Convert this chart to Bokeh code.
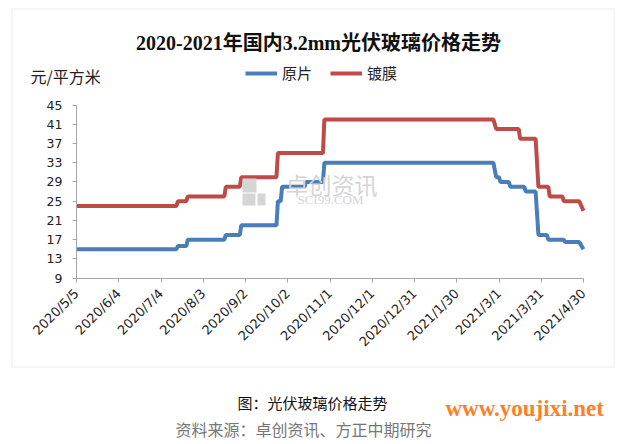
import math
import pandas as pd
from bokeh.plotting import figure
from bokeh.models import (FixedTicker, CustomJSTickFormatter, Label, Legend, LegendItem,
                          BoxAnnotation, Range1d, LinearAxis, DatetimeAxis)
from bokeh.embed import file_html
from bokeh.resources import INLINE

# ---------------- data ----------------
blue_name = "原片"
red_name = "镀膜"
blue_dates = ["2020-05-05", "2020-07-15", "2020-07-16", "2020-07-22", "2020-07-23", "2020-08-18",
              "2020-08-19", "2020-08-29", "2020-08-30", "2020-09-24", "2020-09-25", "2020-09-27",
              "2020-09-28", "2020-10-14", "2020-10-15", "2020-10-27", "2020-10-28", "2021-02-25",
              "2021-02-27", "2021-03-01", "2021-03-02", "2021-03-08", "2021-03-09", "2021-03-19",
              "2021-03-20", "2021-03-27", "2021-03-29", "2021-04-04", "2021-04-05", "2021-04-16",
              "2021-04-17", "2021-04-27", "2021-04-30"]
blue_vals = [15, 15, 15.7, 15.7, 17, 17,
             18, 18, 20, 20, 25, 25,
             28, 28, 29, 29, 33, 33,
             30, 30, 29, 29, 28, 28,
             27, 27, 18, 18, 17, 17,
             16.5, 16.5, 15]
red_dates = ["2020-05-05", "2020-07-15", "2020-07-16", "2020-07-22", "2020-07-23", "2020-08-18",
             "2020-08-19", "2020-08-29", "2020-08-30", "2020-09-24", "2020-09-25", "2020-10-27",
             "2020-10-28", "2021-02-25", "2021-02-27", "2021-03-15", "2021-03-16", "2021-03-27",
             "2021-03-29", "2021-04-05", "2021-04-06", "2021-04-15", "2021-04-16", "2021-04-27",
             "2021-04-30"]
red_vals = [24, 24, 25, 25, 26, 26,
            28, 28, 30, 30, 35, 35,
            42, 42, 40, 40, 38, 38,
            28, 28, 26, 26, 25, 25,
            23]
x_tick_dates = ["2020-05-05", "2020-06-04", "2020-07-04", "2020-08-03", "2020-09-02", "2020-10-02",
                "2020-11-01", "2020-12-01", "2020-12-31", "2021-01-30", "2021-03-01", "2021-03-31",
                "2021-04-30"]
y_ticks = [9, 13, 17, 21, 25, 29, 33, 37, 41, 45]

title_text = "2020-2021年国内3.2mm光伏玻璃价格走势"
unit_text = "元/平方米"
caption_text = "图：光伏玻璃价格走势"
source_text = "资料来源：卓创资讯、方正中期研究"
site_text = "www.youjixi.net"
wm_text = "卓创资讯"
wm_sub = "SCI99.COM"

BLUE = "#4A7EBB"
RED = "#BE4B48"

# ---------------- layout (pixels in the figure canvas) ----------------
W, H = 623, 444
PLOT_L, PLOT_R = 76, 583       # x pixels of first / last date
PLOT_T, PLOT_B = 104.5, 277.7  # y pixels (from top) of y max / y min

d0 = pd.Timestamp(x_tick_dates[0])
d1 = pd.Timestamp(x_tick_dates[-1])
ms0 = d0.value / 1e6
ms1 = d1.value / 1e6
ms_per_px = (ms1 - ms0) / (PLOT_R - PLOT_L)
xr = Range1d(ms0 - PLOT_L * ms_per_px, ms1 + (W - PLOT_R) * ms_per_px)
y0, y1 = y_ticks[0], y_ticks[-1]
u_per_px = (y1 - y0) / (PLOT_B - PLOT_T)
yr = Range1d(y0 - (H - PLOT_B) * u_per_px, y1 + PLOT_T * u_per_px)

bd = pd.to_datetime(blue_dates)
rd = pd.to_datetime(red_dates)
ticks_ms = [pd.Timestamp(d).value // 10**6 for d in x_tick_dates]

p = figure(width=W, height=H, output_backend="svg", toolbar_location=None,
           x_range=xr, y_range=yr, x_axis_location=None, y_axis_location=None,
           min_border=0, min_border_left=0, min_border_right=0,
           min_border_top=0, min_border_bottom=0)
p.outline_line_color = None
p.xgrid.visible = False
p.ygrid.visible = False
p.background_fill_color = "white"
p.border_fill_color = "white"

xaxis = DatetimeAxis(fixed_location=y0, bounds=(ms0, ms1))
yaxis = LinearAxis(fixed_location=ms0, bounds=(y0, y1))
p.add_layout(xaxis, "below")
p.add_layout(yaxis, "left")

for ax in (xaxis, yaxis):
    ax.axis_line_color = "#A6A6A6"
    ax.major_tick_line_color = "#A6A6A6"
    ax.minor_tick_line_color = None
    ax.major_tick_in = 0
    ax.major_tick_out = 4
    ax.major_label_text_color = "#222222"
    ax.major_label_text_font = "DejaVu Sans"

yaxis.major_label_text_font_size = "12.5px"
xaxis.major_label_text_font_size = "13px"
yaxis.ticker = FixedTicker(ticks=y_ticks)
yaxis.major_label_standoff = 10
xaxis.ticker = FixedTicker(ticks=ticks_ms)
xaxis.formatter = CustomJSTickFormatter(code="""
const d = new Date(tick);
return d.getUTCFullYear() + '/' + (d.getUTCMonth() + 1) + '/' + d.getUTCDate();
""")
xaxis.major_label_orientation = math.pi / 4
xaxis.major_label_standoff = 9

rb = p.line(bd, blue_vals, line_color=BLUE, line_width=4)
rr = p.line(rd, red_vals, line_color=RED, line_width=4)

# legend
leg = Legend(items=[LegendItem(label=blue_name, renderers=[rb]),
                    LegendItem(label=red_name, renderers=[rr])],
             orientation="horizontal", location=(245, 361))
leg.padding = 0
leg.margin = 0
leg.spacing = 18
leg.glyph_width = 32
leg.glyph_height = 16
leg.label_height = 16
leg.label_standoff = 5
leg.label_text_font = "Noto Sans CJK SC"
leg.label_text_font_size = "15px"
leg.label_text_color = "#222222"
leg.border_line_color = None
leg.background_fill_alpha = 0
p.add_layout(leg, "center")


def scr_label(x, y, text, **kw):
    p.add_layout(Label(x=x, y=y, x_units="screen", y_units="screen", text=text, **kw))


# watermark
scr_label(331, 261, wm_text, text_font="Noto Sans CJK SC", text_font_size="23px",
          text_color="#D5D5D5", text_align="center", text_baseline="middle")
scr_label(330, 245, wm_sub, text_font="Liberation Serif", text_font_size="13px",
          text_color="#D5D5D5", text_align="center", text_baseline="middle")
for (l, r, b, t) in [(242, 256, 252, 266), (242, 255, 239, 251), (257, 265, 239, 251)]:
    p.add_layout(BoxAnnotation(left=l, right=r, bottom=b, top=t, left_units="screen",
                               right_units="screen", bottom_units="screen", top_units="screen",
                               fill_color="#D5D5D5", fill_alpha=1, line_color=None))

# chart border
p.add_layout(BoxAnnotation(left=11.5, right=613.5, bottom=77.5, top=435.5, left_units="screen",
                           right_units="screen", bottom_units="screen", top_units="screen",
                           fill_alpha=0, line_color="#BFBFBF", line_width=1))

# texts
scr_label(318, 402, title_text, text_font="Liberation Serif, Noto Sans CJK SC",
          text_font_style="bold", text_font_size="20px", text_color="#111111",
          text_align="center", text_baseline="middle")
scr_label(30, 369, unit_text, text_font="Noto Sans CJK SC", text_font_size="16px",
          text_color="#222222", text_align="left", text_baseline="middle")
scr_label(312, 42, caption_text, text_font="Noto Sans CJK SC", text_font_size="15px",
          text_color="#111111", text_align="center", text_baseline="middle")
scr_label(303, 16, source_text, text_font="Noto Sans CJK SC", text_font_size="16px",
          text_color="#777777", text_align="center", text_baseline="middle")
scr_label(445, 36, site_text, text_font="Liberation Serif", text_font_style="bold",
          text_font_size="23px", text_color="#FF7F27", text_align="left",
          text_baseline="middle")

open("out.html", "w").write(file_html(p, INLINE))
